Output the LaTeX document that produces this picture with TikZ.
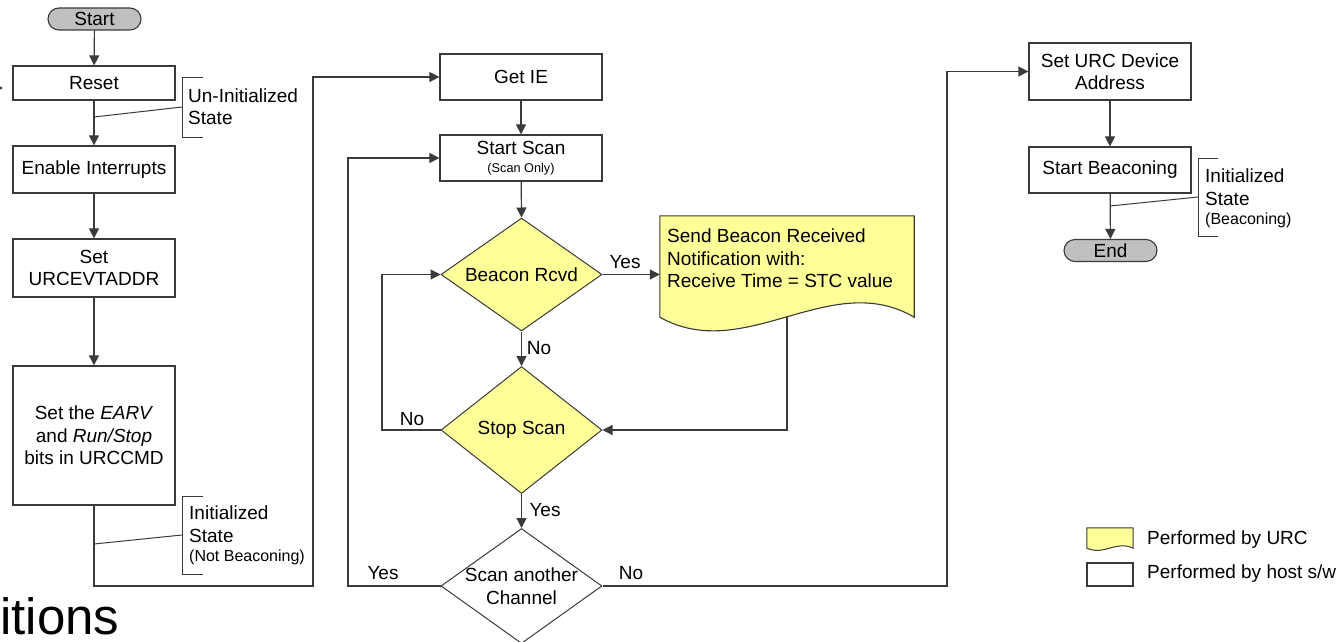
\documentclass[tikz,border=0pt]{standalone}
\usepackage{fontspec}
\setmainfont{Liberation Sans}
\usetikzlibrary{shapes.geometric,arrows.meta}
\definecolor{lc}{HTML}{3A3A3A}
\definecolor{urc}{HTML}{FFFF99}
\definecolor{termfill}{HTML}{C0C0C0}
\begin{document}
\begin{tikzpicture}[x=1pt,y=-1pt,
  font=\fontsize{19}{22.5}\selectfont,
  box/.style={draw=lc,line width=1.3pt,fill=white,rectangle,inner sep=0pt,minimum width=162pt,align=center},
  termbox/.style={draw=lc,line width=1.1pt,fill=termfill,rectangle,rounded corners=11pt,minimum width=93pt,minimum height=22pt,inner sep=0pt},
  dia/.style={draw=lc,line width=1pt,diamond,minimum width=161pt,inner sep=0pt},
  arr/.style={draw=lc,line width=1.2pt,-{Triangle[length=10pt,width=10pt]}},
  ln/.style={draw=lc,line width=1.2pt},
  thin/.style={draw=lc,line width=1pt},
  lbl/.style={inner sep=0pt},
  note/.style={inner sep=0pt,align=left,anchor=north west}
]
\useasboundingbox (0,0) rectangle (1342,642);

% title fragment
\node[inner sep=0pt,anchor=base west,font=\fontsize{51}{60}\selectfont] (title) at (0,634) {itions};

% left column
\node[termbox] (start) at (94.5,19) {Start};
\node[box,minimum height=34pt] (reset) at (94,83) {Reset};
\node[box,minimum height=47pt] (enable) at (94,169.5) {Enable Interrupts};
\node[box,minimum height=58pt] (setaddr) at (94,268) {Set\\URCEVTADDR};
\node[box,minimum height=139pt] (earv) at (94,435.5) {Set the \textit{EARV}\\and \textit{Run/Stop}\\bits in URCCMD};

\coordinate (lin) at (-12,88);
\coordinate (lintip) at (3,88);
\draw[arr] (lin) -- (lintip);

\draw[arr] (start) -- (reset);
\draw[arr] (reset) -- (enable);
\draw[arr] (enable) -- (setaddr);
\draw[arr] (setaddr) -- (earv);

% state notes left
\coordinate (u1) at (203,78);
\coordinate (u2) at (182,78);
\coordinate (u3) at (182,137);
\coordinate (u4) at (203,137);
\coordinate (um) at (182,107);
\coordinate (uf) at (94,117);
\draw[thin] (u1) -- (u2) -- (u3) -- (u4);
\draw[thin] (um) -- (uf);
\node[note] (uinit) at (188,88.5) {Un-Initialized\\State};

\coordinate (i1) at (203,496);
\coordinate (i2) at (182,496);
\coordinate (i3) at (182,574);
\coordinate (i4) at (203,574);
\coordinate (im) at (182,535);
\coordinate (if) at (94,544);
\draw[thin] (i1) -- (i2) -- (i3) -- (i4);
\draw[thin] (im) -- (if);
\node[note] (initnb) at (189,506) {Initialized\\State\\[-3.5pt]{\fontsize{16}{18}\selectfont(Not Beaconing)}};

% middle column
\node[box,minimum height=46pt] (getie) at (521,77) {Get IE};
\node[box,minimum height=46pt] (startscan) at (521,158) {Start Scan\\[-5pt]{\fontsize{12.7}{14}\selectfont(Scan Only)}};

\node[dia,fill=urc,minimum height=113pt,label={center:Beacon Rcvd}] (beacon) at (521.5,274.5) {};
\node[dia,fill=urc,minimum height=127pt,label={center:Stop Scan}] (stop) at (521.5,430) {};
\node[dia,fill=white,minimum height=115pt,label={[align=center]center:Scan another\\Channel}] (scan) at (521.5,586) {};

% document shape
\node[rectangle,minimum width=254pt,minimum height=101pt,inner sep=0pt] (doc) at (787,266.5) {};
\draw[draw=lc,line width=1.1pt,fill=urc] (doc.north west) -- (doc.north east) -- (doc.south east)
  .. controls (830,268) and (745,365) .. (doc.south west) -- cycle;
\node[note] (doctext) at (667,229) {Send Beacon Received\\Notification with:\\Receive Time = STC value};

\coordinate (c1) at (313,586);
\draw[arr] (earv.south) |- (c1) |- (getie.west);
\draw[arr] (getie) -- (startscan);
\draw[arr] (startscan) -- (beacon.north);
\draw[arr] (beacon.east) -- (beacon.east -| doc.west);
\draw[arr] (beacon.south) -- (stop.north);
\draw[arr] (doc.south) |- (stop.east);
\coordinate (c2) at (382,430);
\draw[arr] (stop.west) -- (c2) |- (beacon.west);
\draw[arr] (stop.south) -- (scan.north);
\coordinate (c3) at (348,586);
\draw[arr] (scan.west) -- (c3) |- (startscan.west);
\coordinate (c4) at (947,586);

\node[lbl] (ly1) at (625,262) {Yes};
\node[lbl] (ln1) at (539,348) {No};
\node[lbl] (ln2) at (412,419) {No};
\node[lbl] (ly2) at (545,510) {Yes};
\node[lbl] (ly3) at (383,573) {Yes};
\node[lbl] (ln3) at (631,573) {No};

% right column
\node[box,minimum height=57pt] (seturc) at (1110,71.5) {Set URC Device\\Address};
\node[box,minimum height=46pt] (startbeacon) at (1110,170) {Start Beaconing};
\node[termbox] (end) at (1110.5,250.5) {End};
\draw[arr] (scan.east) -- (c4) |- (seturc.west);
\draw[arr] (seturc) -- (startbeacon);
\draw[arr] (startbeacon) -- (end);

\coordinate (b1) at (1218,158);
\coordinate (b2) at (1198,158);
\coordinate (b3) at (1198,236);
\coordinate (b4) at (1218,236);
\coordinate (bm) at (1198,197);
\coordinate (bf) at (1110,206);
\draw[thin] (b1) -- (b2) -- (b3) -- (b4);
\draw[thin] (bm) -- (bf);
\node[note] (initb) at (1205,169) {Initialized\\State\\[-3.5pt]{\fontsize{16}{18}\selectfont(Beaconing)}};

% legend
\node[rectangle,minimum width=46pt,minimum height=20pt,inner sep=0pt] (legurc) at (1110,538) {};
\draw[draw=lc,line width=1pt,fill=urc] (legurc.north west) -- (legurc.north east) -- (legurc.south east)
  .. controls (1115,540) and (1105,556) .. (legurc.south west) -- cycle;
\node[lbl,anchor=west] (legurct) at (1147,540) {Performed by URC};
\node[draw=lc,line width=1.1pt,fill=white,rectangle,minimum width=46pt,minimum height=23pt,inner sep=0pt] (leghost) at (1110,574.5) {};
\node[lbl,anchor=west] (leghostt) at (1147,574) {Performed by host s/w};
\end{tikzpicture}
\end{document}
